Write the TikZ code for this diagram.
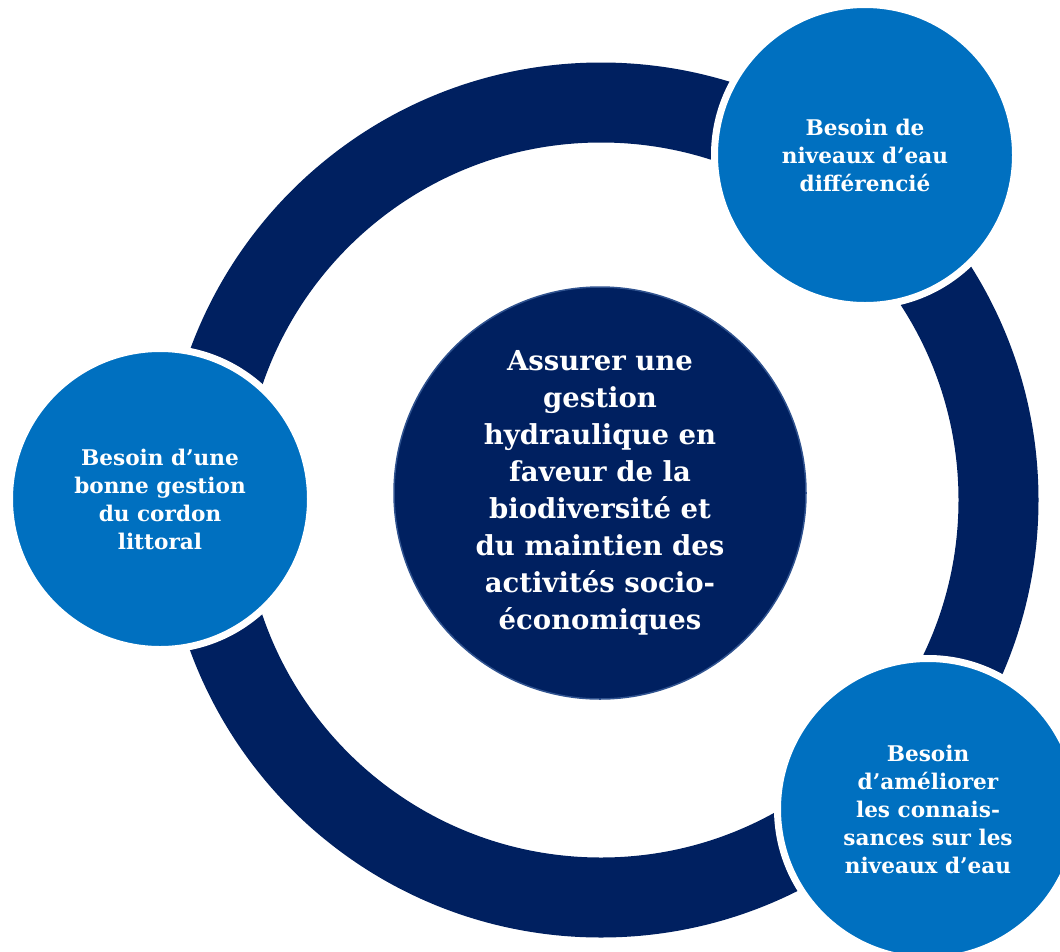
\documentclass[tikz,border=0pt]{standalone}
\usepackage{fontspec}
\setmainfont{DejaVu Serif}
\definecolor{navy}{RGB}{0,32,96}
\definecolor{bleu}{RGB}{0,112,192}
\definecolor{rim}{RGB}{47,82,143}
\begin{document}
\begin{tikzpicture}[x=1pt,y=-1pt,
  besoin/.style={circle,fill=bleu,draw=white,line width=7pt,minimum size=301pt,inner sep=0pt,
    text=white,align=center,font=\bfseries\fontsize{21.6}{28}\selectfont},
  coeur/.style={circle,fill=navy,draw=rim,line width=1.5pt,minimum size=412pt,inner sep=0pt,
    text=white,align=center,font=\bfseries\fontsize{27.5}{37}\selectfont}]
\useasboundingbox (0,0) rectangle (1060,951);
\coordinate (o) at (601,500);
\draw[navy,line width=80pt] (o) circle[radius=397.5pt];
\node[coeur] (c) at (600,493) {Assurer une\\gestion\\hydraulique en\\faveur de la\\biodiversité et\\du maintien des\\activités socio-\\économiques};
\node[besoin] (tr) at (865,155) {Besoin de\\niveaux d’eau\\différencié};
\node[besoin] (l) at (160,499) {Besoin d’une\\bonne gestion\\du cordon\\littoral};
\node[besoin] (br) at (928,809) {Besoin\\d’améliorer\\les connais-\\sances sur les\\niveaux d’eau};
\end{tikzpicture}
\end{document}
